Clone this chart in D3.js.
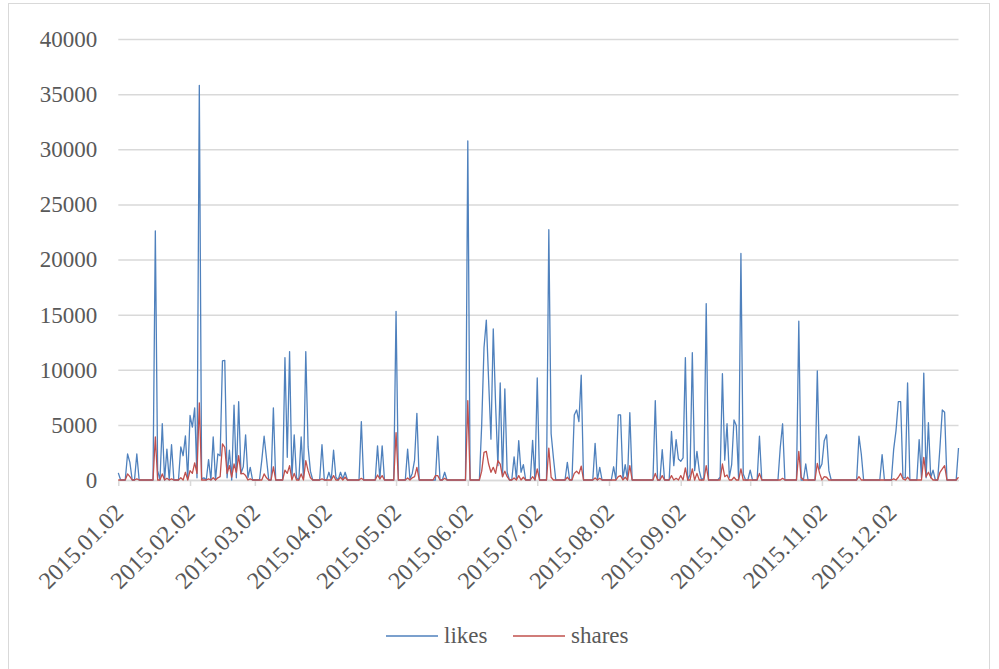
<!DOCTYPE html>
<html>
<head>
<meta charset="utf-8">
<script src="https://cdn.jsdelivr.net/npm/d3@7"></script>
<style>
  body { margin: 0; background: #fff; }
  svg text { font-family: "Liberation Serif", "DejaVu Serif", serif; fill: #595959; }
</style>
</head>
<body>
<div id="chart"></div>
<script>
const startDay = "2015-01-02";
const seriesNames = ["likes", "shares"];
const seriesColors = ["#4F81BD", "#C0504D"];
const yTicks = [0, 5000, 10000, 15000, 20000, 25000, 30000, 35000, 40000];
const xTickLabels = ["2015.01.02", "2015.02.02", "2015.03.02", "2015.04.02", "2015.05.02", "2015.06.02",
    "2015.07.02", "2015.08.02", "2015.09.02", "2015.10.02", "2015.11.02", "2015.12.02"];

// one value per day, 2015.01.02 .. 2015.12.31
const likes = [
    650,0,0,0,2360,1600,0,0,2360,0,
    0,0,0,0,0,0,22600,850,0,5100,
    0,2800,0,3200,0,0,0,3000,2200,4000,
    100,5850,4800,6550,200,35800,100,200,0,1850,
    0,3900,0,2360,2200,10800,10850,200,2700,0,
    6800,200,7100,600,1200,4100,200,1150,0,0,
    0,0,1800,3970,2000,0,0,6550,0,0,
    0,0,11100,2060,11650,200,4100,200,0,3900,
    200,11650,3000,800,0,0,0,0,3200,0,
    0,700,0,2700,250,0,700,100,700,0,
    0,0,0,0,0,5300,0,0,0,0,
    0,0,3100,100,3100,0,0,0,0,0,
    15300,0,0,0,0,2800,100,600,1800,6050,
    0,0,0,0,0,0,0,0,3970,0,
    0,700,0,0,0,0,0,0,0,0,
    0,30750,0,0,0,0,0,5000,12000,14500,
    9000,3700,13700,6900,1300,8800,300,8270,700,0,
    0,2100,100,3570,700,1400,0,0,0,3600,
    0,9250,0,0,0,0,22700,4200,2000,0,
    0,0,0,0,1600,0,0,5900,6350,5300,
    9500,0,0,0,0,0,3330,0,1150,0,
    0,0,0,0,1200,0,5900,5900,100,1400,
    0,6100,0,0,0,0,0,0,0,0,
    0,0,7200,0,0,2760,0,0,0,4400,
    1300,3670,1900,1700,2000,11100,0,500,11550,850,
    2600,850,0,200,16000,0,0,0,0,0,
    250,9640,1800,5100,250,1400,5450,4940,100,20550,
    550,0,0,900,0,0,0,3970,0,0,
    0,0,0,0,0,0,2970,5100,0,0,
    0,0,0,0,14400,0,0,1450,0,0,
    0,0,9900,1000,1450,3570,4100,850,0,0,
    0,0,0,0,0,0,0,0,0,0,
    3970,2360,0,0,0,0,0,0,0,0,
    2300,0,0,0,0,2800,4480,7100,7100,200,
    200,8800,0,0,0,0,3670,200,9700,200,
    5200,200,900,0,0,3000,6350,6150,0,0,
    0,0,0,2900
];
const shares = [
    0,0,0,0,550,300,0,0,100,0,
    0,0,0,0,0,0,3900,0,0,550,
    0,150,0,100,0,0,0,200,0,700,
    0,850,600,1550,600,7000,0,0,0,100,
    0,200,0,200,300,3270,2970,600,1300,250,
    1450,700,2200,550,600,400,0,100,0,0,
    0,0,0,550,200,0,0,1200,0,0,
    0,0,900,600,1300,0,600,0,0,550,
    0,1750,850,200,0,0,0,0,100,0,
    0,0,0,400,0,0,250,0,250,0,
    0,0,0,0,0,150,0,0,0,0,
    0,0,450,100,400,0,0,0,0,0,
    4300,0,0,0,0,180,0,200,300,1150,
    0,0,0,0,0,0,0,400,400,0,
    0,150,0,0,0,0,0,0,0,0,
    0,7200,0,0,0,0,0,800,2500,2600,
    1450,700,1150,600,1750,1450,300,800,300,0,
    0,180,0,400,0,250,0,0,0,300,
    0,1000,0,0,0,0,2900,250,0,0,
    0,0,0,0,250,0,0,600,800,550,
    1250,0,0,0,0,0,180,0,150,0,
    0,0,0,0,0,0,300,400,0,250,
    0,1300,0,0,0,0,0,0,0,0,
    0,0,600,0,0,400,0,0,0,400,
    0,150,0,400,0,1100,0,0,1000,0,
    600,0,0,0,1300,0,0,0,0,0,
    0,1450,300,450,0,0,250,0,0,1000,
    0,0,0,0,0,0,0,600,0,0,
    0,0,0,0,0,0,0,150,0,0,
    0,0,0,0,2600,250,0,0,0,0,
    0,0,1500,600,0,300,250,0,0,0,
    0,0,0,0,0,0,0,0,0,0,
    300,0,0,0,0,0,0,0,0,0,
    0,0,0,0,0,100,0,250,600,100,
    0,250,0,0,0,0,0,0,2060,300,
    700,250,0,0,0,700,1000,1300,0,0,
    0,0,0,250
];

const width = 999, height = 669;
const parse = d3.utcParse("%Y-%m-%d");
const parseTick = d3.utcParse("%Y.%m.%d");
const t0 = parse(startDay);
const dates = likes.map((v, i) => d3.utcDay.offset(t0, i));

let svg = d3.select("#chart")
    .append("svg")
    .attr("width", width)
    .attr("height", height);

// chart area border
svg.append("rect")
    .attr("x", 8.5)
    .attr("y", 3.5)
    .attr("width", 981)
    .attr("height", 690)
    .style("fill", "none")
    .style("stroke", "#d9d9d9")
    .style("stroke-width", 1);

let x = d3.scaleUtc()
    .domain([dates[0], dates[dates.length - 1]])
    .range([118.3, 958.5]);
let y = d3.scaleLinear()
    .domain([0, 40000])
    .range([480, 39]);

// y axis with gridlines
let yAxis = svg.append("g")
    .attr("transform", `translate(${x.range()[0]},0)`)
    .call(d3.axisLeft(y)
        .tickValues(yTicks)
        .tickSize(-(x.range()[1] - x.range()[0]))
        .tickPadding(21)
        .tickFormat(d3.format("d")));
yAxis.select(".domain").remove();
yAxis.selectAll("line")
    .style("stroke", "#d9d9d9")
    .style("stroke-width", 1.5);
yAxis.selectAll("text")
    .style("font-size", "23px");

// x axis
let xAxis = svg.append("g")
    .attr("transform", `translate(0,${y(0)})`)
    .call(d3.axisBottom(x)
        .tickValues(xTickLabels.map(parseTick))
        .tickSize(6)
        .tickSizeOuter(0)
        .tickFormat(d3.utcFormat("%Y.%m.%d")));
xAxis.select(".domain")
    .style("stroke", "#d9d9d9")
    .style("stroke-width", 1.5);
xAxis.selectAll("line")
    .style("stroke", "#d9d9d9")
    .style("stroke-width", 1.5);
xAxis.selectAll("text")
    .attr("x", 0)
    .attr("y", 0)
    .attr("dy", 0)
    .attr("text-anchor", "end")
    .attr("transform", "translate(6,34) rotate(-45)")
    .style("font-size", "24px");

// lines
let line = d3.line()
    .x((d, i) => x(dates[i]))
    .y(d => y(d));

[likes, shares].forEach(function(values, k) {
    svg.append("path")
        .datum(values)
        .attr("d", line)
        .style("fill", "none")
        .style("stroke", seriesColors[k])
        .style("stroke-width", 1.3)
        .style("stroke-linejoin", "round");
});

// legend
const legendX = [386, 513];
seriesNames.forEach(function(name, k) {
    svg.append("line")
        .attr("x1", legendX[k])
        .attr("x2", legendX[k] + 52)
        .attr("y1", 636)
        .attr("y2", 636)
        .style("stroke", seriesColors[k])
        .style("stroke-width", 1.3);
    svg.append("text")
        .attr("x", legendX[k] + 58)
        .attr("y", 643)
        .style("font-size", "23px")
        .text(name);
});
</script>
</body>
</html>
